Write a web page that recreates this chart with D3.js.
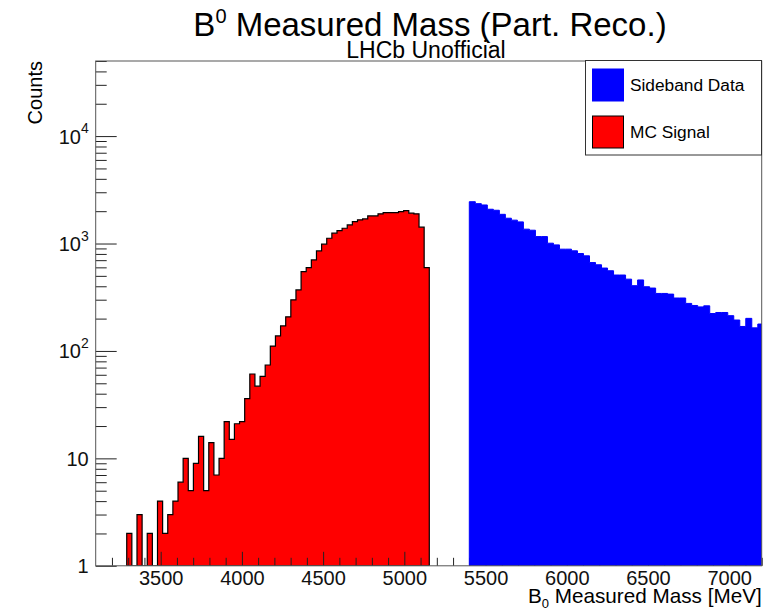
<!DOCTYPE html>
<html><head><meta charset="utf-8">
<script src="https://cdn.jsdelivr.net/npm/d3@7"></script>
<style>body{margin:0;background:#fff}svg{display:block;font-family:"Liberation Sans",Arial,Helvetica,sans-serif}</style>
</head><body><svg id="c" width="781" height="612"></svg>
<script>
// ---- data ----
const xDomain = [3100, 7200];
const yDomain = [1, 5e4];
const xMajorTicks = [3500, 4000, 4500, 5000, 5500, 6000, 6500, 7000];
const yMajorTicks = [1, 10, 100, 1000, 10000];
const yTickLabels = [["1", ""], ["10", ""], ["10", "2"], ["10", "3"], ["10", "4"]];
const signalStart = 3291, signalWidth = 31.57;
const signalCounts = [2,0,3,0,2,0,4,2,3,4,6,10,5,9,16,5,14,7,10,22,15,21,22,36,
  61,47,58,74,111,138,171,208,299,370,547,597,703,853,985,1120,1247,1318,1387,1490,
  1600,1660,1694,1807,1807,1888,1940,1940,1940,1983,2025,1915,1888,1419,597];
const sidebandStart = 5400, sidebandWidth = 37;
const sidebandCounts = [2450,2350,2285,2085,2040,1870,1720,1650,1590,1360,
  1330,1160,1160,1007,971,886,886,855,807,768,
  665,634,591,558,509,509,466,405,458,396,
  385,343,343,338,311,311,277,265,257,263,
  223,228,228,213,194,169,201,164,178];
const legendLabels = ["Sideband Data", "MC Signal"];

// ---- layout ----
const L = 95.7, R = 761.7, T = 61, B = 565.8;
const svg = d3.select("#c");
const x = d3.scaleLinear().domain(xDomain).range([L, R]);
const y = d3.scaleLog().domain(yDomain).range([B, T]);

svg.append("defs").append("clipPath").attr("id", "clip")
  .append("rect").attr("x", L).attr("y", T).attr("width", R - L).attr("height", B - T);

function histPath(start, width, counts) {
  const p = d3.path();
  p.moveTo(x(start), y(1));
  counts.forEach((v, i) => {
    const yy = v > 0 ? y(v) : y(1);
    p.lineTo(x(start + i * width), yy);
    p.lineTo(x(start + (i + 1) * width), yy);
  });
  p.lineTo(x(start + counts.length * width), y(1));
  p.closePath();
  return p.toString();
}

// red signal histogram
svg.append("path").attr("clip-path", "url(#clip)")
  .attr("d", histPath(signalStart, signalWidth, signalCounts))
  .attr("fill", "#ff0000").attr("stroke", "#000").attr("stroke-width", 1.2);

// x axis ticks
const xMinor = d3.range(3200, 7201, 100).filter(v => !xMajorTicks.includes(v));
svg.append("g").attr("transform", `translate(0,${B})`)
  .call(d3.axisBottom(x).tickValues(xMinor).tickSize(-8).tickSizeOuter(0).tickFormat(""))
  .call(g => g.select(".domain").remove())
  .call(g => g.selectAll("line").attr("stroke", "#222"));
const xAx = svg.append("g").attr("transform", `translate(0,${B})`)
  .call(d3.axisBottom(x).tickValues(xMajorTicks).tickSize(-14).tickSizeOuter(0).tickPadding(5).tickFormat(d3.format("d")))
  .call(g => g.select(".domain").remove());
xAx.selectAll("line").attr("stroke", "#222");
xAx.selectAll("text").attr("font-size", 20).attr("fill", "#111").attr("font-family", "Liberation Sans, Arial, sans-serif");

// y axis ticks
const yMinor = [];
yMajorTicks.forEach(d => { for (let k = 2; k <= 9; k++) { const v = d * k; if (v <= yDomain[1]) yMinor.push(v); } });
svg.append("g").attr("transform", `translate(${L},0)`)
  .call(d3.axisLeft(y).tickValues(yMinor).tickSize(-11).tickSizeOuter(0).tickFormat(""))
  .call(g => g.select(".domain").remove())
  .call(g => g.selectAll("line").attr("stroke", "#222"));
const yAx = svg.append("g").attr("transform", `translate(${L},0)`)
  .call(d3.axisLeft(y).tickValues(yMajorTicks).tickSize(-21).tickSizeOuter(0).tickPadding(7).tickFormat(""))
  .call(g => g.select(".domain").remove());
yAx.selectAll("line").attr("stroke", "#222");
yAx.selectAll("text").each(function (d, i) {
  const t = d3.select(this).attr("font-size", 20).attr("fill", "#111").attr("dy", "0.35em")
    .attr("font-family", "Liberation Sans, Arial, sans-serif");
  t.text(null);
  t.append("tspan").text(yTickLabels[i][0]);
  if (yTickLabels[i][1]) t.append("tspan").attr("font-size", 14).attr("dy", "-0.75em").text(yTickLabels[i][1]);
});

// blue sideband histogram (drawn over ticks)
svg.append("path").attr("clip-path", "url(#clip)")
  .attr("d", histPath(sidebandStart, sidebandWidth, sidebandCounts))
  .attr("fill", "#0000ff").attr("stroke", "#0000ff").attr("stroke-width", 1);

// frame
svg.append("rect").attr("x", L).attr("y", T).attr("width", R - L).attr("height", B - T)
  .attr("fill", "none").attr("stroke", "#555").attr("stroke-width", 1);

// titles
const title = svg.append("text").attr("x", 430).attr("y", 36).attr("text-anchor", "middle")
  .attr("font-size", 33).attr("fill", "#000");
title.append("tspan").text("B");
title.append("tspan").attr("font-size", 20).attr("dy", -13).text("0");
title.append("tspan").attr("dy", 13).text(" Measured Mass (Part. Reco.)");
svg.append("text").attr("x", 426).attr("y", 58).attr("text-anchor", "middle")
  .attr("font-size", 23).attr("fill", "#000").text("LHCb Unofficial");

// axis titles
const xt = svg.append("text").attr("x", R).attr("y", 603).attr("text-anchor", "end")
  .attr("font-size", 20.7).attr("fill", "#000");
xt.append("tspan").text("B");
xt.append("tspan").attr("font-size", 13).attr("dy", 5).text("0");
xt.append("tspan").attr("dy", -5).text(" Measured Mass [MeV]");
svg.append("text").attr("transform", `translate(42,${T}) rotate(-90)`).attr("text-anchor", "end")
  .attr("font-size", 20).attr("fill", "#000").text("Counts");

// legend
const lg = svg.append("g");
lg.append("rect").attr("x", 585.5).attr("y", 60.5).attr("width", 176).attr("height", 94.5)
  .attr("fill", "#fff").attr("stroke", "#333").attr("stroke-width", 1);
const legendColors = ["#0000ff", "#ff0000"];
const legendStroke = ["#0000ff", "#000"];
legendLabels.forEach((lab, i) => {
  const cy = 85 + i * 47;
  lg.append("rect").attr("x", 592.5).attr("y", cy - 16).attr("width", 31).attr("height", 32)
    .attr("fill", legendColors[i]).attr("stroke", legendStroke[i]).attr("stroke-width", 1);
  lg.append("text").attr("x", 630).attr("y", cy + 6).attr("font-size", 17.3).attr("fill", "#000").text(lab);
});
</script></body></html>
